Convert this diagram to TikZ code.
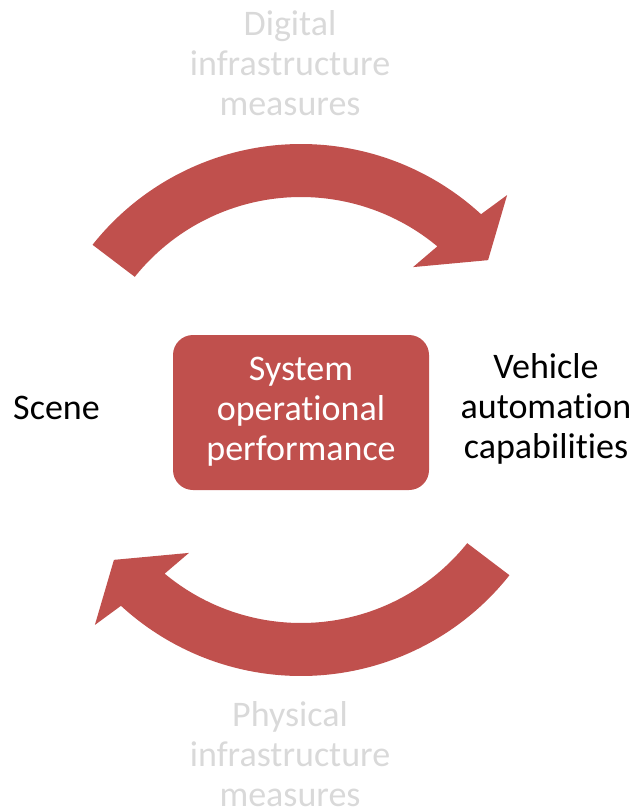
\documentclass[tikz,border=0pt]{standalone}
\usepackage{fontspec}
\setmainfont{Carlito}[Ligatures=NoCommon]
\usetikzlibrary{calc}
\definecolor{accent}{HTML}{C0504D}
\definecolor{lightgrey}{HTML}{D9D9D9}
\begin{document}
\begin{tikzpicture}[x=0.75pt,y=-0.75pt,
  lbl/.style={inner sep=0pt, align=center, font=\fontsize{27}{30}\selectfont},
  centrebox/.style={lbl, fill=accent, text=white, rounded corners=15pt,
    minimum width=192pt, minimum height=116.25pt},
  bigarrow/.style={fill=accent, draw=none}]
\useasboundingbox (0,0) rectangle (637,811);
\coordinate (C) at (301,410);
% top arrow
\path[bigarrow] ($(C)+(218.4:266)$) arc[start angle=218.4, end angle=312.6, radius=266]
  -- ($(C)+(313.8:297.8)$) -- ($(C)+(321.3:239.7)$) -- ($(C)+(308.1:181.6)$)
  -- ($(C)+(309.8:213)$) arc[start angle=309.8, end angle=218.7, radius=213] -- cycle;
% bottom arrow
\path[bigarrow] ($(C)+(38.4:266)$) arc[start angle=38.4, end angle=132.6, radius=266]
  -- ($(C)+(133.8:297.8)$) -- ($(C)+(141.3:239.7)$) -- ($(C)+(128.1:181.6)$)
  -- ($(C)+(129.8:213)$) arc[start angle=129.8, end angle=38.7, radius=213] -- cycle;
% texts
\node[lbl, text=lightgrey] (digital) at (290,67) {\strut Digital\\\strut infrastructure\\\strut measures};
\node[lbl, text=lightgrey] (physical) at (290,758) {\strut Physical\\\strut infrastructure\\\strut measures};
\node[centrebox] (sop) at (301,412.5) {\strut System\\\strut operational\\\strut performance};
\node[lbl, anchor=base] (scene) at (56.5,419) {Scene};
\node[lbl] (vehicle) at (546,410) {\strut Vehicle\\\strut automation\\\strut capabilities};
\end{tikzpicture}
\end{document}
